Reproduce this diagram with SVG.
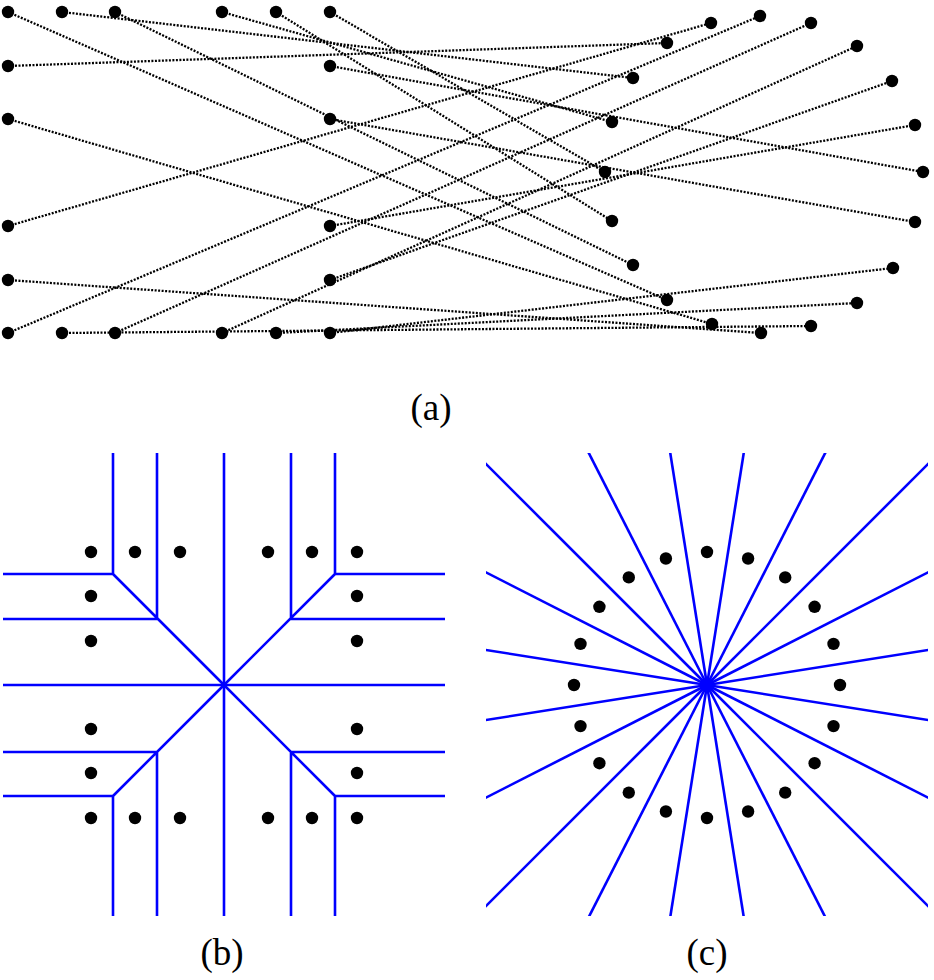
<svg xmlns="http://www.w3.org/2000/svg" width="934" height="980" viewBox="0 0 934 980">
<style>
.e{stroke:#000;stroke-width:2.3;stroke-dasharray:2 1.5;fill:none}
.b{stroke:#0000ff;stroke-width:2.6;fill:none}
.d{fill:#000}
.lbl{font-family:"Liberation Serif","Times New Roman",serif;font-size:37px;fill:#000;text-anchor:middle}
</style>
<defs>
<clipPath id="clipB"><rect x="3" y="453" width="442" height="463"/></clipPath>
<clipPath id="clipC"><rect x="486" y="453" width="442" height="463"/></clipPath>
</defs>
<rect width="934" height="980" fill="#fff"/>

<!-- (a) connectors -->
<g id="connectors-a">
<line class="e" x1="8" y1="12" x2="667" y2="300"/>
<line class="e" x1="62" y1="12" x2="633" y2="78"/>
<line class="e" x1="115" y1="12" x2="633" y2="265"/>
<line class="e" x1="222" y1="12" x2="612" y2="122"/>
<line class="e" x1="276" y1="12" x2="612" y2="221"/>
<line class="e" x1="330" y1="12" x2="605" y2="172"/>
<line class="e" x1="8" y1="66" x2="667" y2="43"/>
<line class="e" x1="330" y1="66" x2="923" y2="172"/>
<line class="e" x1="8" y1="119" x2="712" y2="324"/>
<line class="e" x1="330" y1="119" x2="915" y2="222"/>
<line class="e" x1="8" y1="226" x2="711" y2="23"/>
<line class="e" x1="330" y1="226" x2="915" y2="125"/>
<line class="e" x1="8" y1="280" x2="761" y2="333"/>
<line class="e" x1="330" y1="280" x2="892" y2="81"/>
<line class="e" x1="8" y1="333" x2="760" y2="16"/>
<line class="e" x1="62" y1="333" x2="811" y2="326"/>
<line class="e" x1="115" y1="333" x2="811" y2="23"/>
<line class="e" x1="222" y1="333" x2="857" y2="46"/>
<line class="e" x1="276" y1="333" x2="857" y2="303"/>
<line class="e" x1="330" y1="333" x2="893" y2="268"/>
</g>

<!-- (a) left nodes -->
<g id="a-left">
<g id="aL1"><circle class="d" cx="8" cy="12" r="6.2"/></g>
<g id="aL2"><circle class="d" cx="62" cy="12" r="6.2"/></g>
<g id="aL3"><circle class="d" cx="115" cy="12" r="6.2"/></g>
<g id="aL4"><circle class="d" cx="222" cy="12" r="6.2"/></g>
<g id="aL5"><circle class="d" cx="276" cy="12" r="6.2"/></g>
<g id="aL6"><circle class="d" cx="330" cy="12" r="6.2"/></g>
<g id="aL7"><circle class="d" cx="8" cy="66" r="6.2"/></g>
<g id="aL8"><circle class="d" cx="330" cy="66" r="6.2"/></g>
<g id="aL9"><circle class="d" cx="8" cy="119" r="6.2"/></g>
<g id="aL10"><circle class="d" cx="330" cy="119" r="6.2"/></g>
<g id="aL11"><circle class="d" cx="8" cy="226" r="6.2"/></g>
<g id="aL12"><circle class="d" cx="330" cy="226" r="6.2"/></g>
<g id="aL13"><circle class="d" cx="8" cy="280" r="6.2"/></g>
<g id="aL14"><circle class="d" cx="330" cy="280" r="6.2"/></g>
<g id="aL15"><circle class="d" cx="8" cy="333" r="6.2"/></g>
<g id="aL16"><circle class="d" cx="62" cy="333" r="6.2"/></g>
<g id="aL17"><circle class="d" cx="115" cy="333" r="6.2"/></g>
<g id="aL18"><circle class="d" cx="222" cy="333" r="6.2"/></g>
<g id="aL19"><circle class="d" cx="276" cy="333" r="6.2"/></g>
<g id="aL20"><circle class="d" cx="330" cy="333" r="6.2"/></g>
</g>
<!-- (a) right nodes -->
<g id="a-right">
<g id="aR1"><circle class="d" cx="760" cy="16" r="6.2"/></g>
<g id="aR2"><circle class="d" cx="811" cy="23" r="6.2"/></g>
<g id="aR3"><circle class="d" cx="857" cy="46" r="6.2"/></g>
<g id="aR4"><circle class="d" cx="892" cy="81" r="6.2"/></g>
<g id="aR5"><circle class="d" cx="915" cy="125" r="6.2"/></g>
<g id="aR6"><circle class="d" cx="923" cy="172" r="6.2"/></g>
<g id="aR7"><circle class="d" cx="915" cy="222" r="6.2"/></g>
<g id="aR8"><circle class="d" cx="893" cy="268" r="6.2"/></g>
<g id="aR9"><circle class="d" cx="857" cy="303" r="6.2"/></g>
<g id="aR10"><circle class="d" cx="811" cy="326" r="6.2"/></g>
<g id="aR11"><circle class="d" cx="761" cy="333" r="6.2"/></g>
<g id="aR12"><circle class="d" cx="712" cy="324" r="6.2"/></g>
<g id="aR13"><circle class="d" cx="667" cy="300" r="6.2"/></g>
<g id="aR14"><circle class="d" cx="633" cy="265" r="6.2"/></g>
<g id="aR15"><circle class="d" cx="612" cy="221" r="6.2"/></g>
<g id="aR16"><circle class="d" cx="605" cy="172" r="6.2"/></g>
<g id="aR17"><circle class="d" cx="612" cy="122" r="6.2"/></g>
<g id="aR18"><circle class="d" cx="633" cy="78" r="6.2"/></g>
<g id="aR19"><circle class="d" cx="667" cy="43" r="6.2"/></g>
<g id="aR20"><circle class="d" cx="711" cy="23" r="6.2"/></g>
</g>
<text class="lbl" x="431" y="420">(a)</text>

<!-- (b) -->
<g id="connectors-b" clip-path="url(#clipB)">
<path class="b" d="M224 453V916M3 685H445"/>
<path class="b" d="M113 453V574H3M113 574L224 685M157 453V619H3"/>
<path class="b" d="M335 453V574H445M335 574L224 685M291 453V619H445"/>
<path class="b" d="M113 916V796H3M113 796L224 685M157 916V752H3"/>
<path class="b" d="M335 916V796H445M335 796L224 685M291 916V752H445"/>
</g>
<g id="b-nodes">
<g id="b1"><circle class="d" cx="91" cy="552" r="6.2"/></g>
<g id="b2"><circle class="d" cx="135" cy="552" r="6.2"/></g>
<g id="b3"><circle class="d" cx="180" cy="552" r="6.2"/></g>
<g id="b4"><circle class="d" cx="268" cy="552" r="6.2"/></g>
<g id="b5"><circle class="d" cx="312" cy="552" r="6.2"/></g>
<g id="b6"><circle class="d" cx="357" cy="552" r="6.2"/></g>
<g id="b7"><circle class="d" cx="91" cy="596" r="6.2"/></g>
<g id="b8"><circle class="d" cx="357" cy="596" r="6.2"/></g>
<g id="b9"><circle class="d" cx="91" cy="641" r="6.2"/></g>
<g id="b10"><circle class="d" cx="357" cy="641" r="6.2"/></g>
<g id="b11"><circle class="d" cx="91" cy="729" r="6.2"/></g>
<g id="b12"><circle class="d" cx="357" cy="729" r="6.2"/></g>
<g id="b13"><circle class="d" cx="91" cy="773" r="6.2"/></g>
<g id="b14"><circle class="d" cx="357" cy="773" r="6.2"/></g>
<g id="b15"><circle class="d" cx="91" cy="818" r="6.2"/></g>
<g id="b16"><circle class="d" cx="135" cy="818" r="6.2"/></g>
<g id="b17"><circle class="d" cx="180" cy="818" r="6.2"/></g>
<g id="b18"><circle class="d" cx="268" cy="818" r="6.2"/></g>
<g id="b19"><circle class="d" cx="312" cy="818" r="6.2"/></g>
<g id="b20"><circle class="d" cx="357" cy="818" r="6.2"/></g>
</g>
<text class="lbl" x="222" y="965">(b)</text>

<!-- (c) -->
<g id="connectors-c" clip-path="url(#clipC)">
<g transform="translate(707 685)">
<line class="b" x1="0" y1="0" x2="0" y2="-400" transform="rotate(9)"/>
<line class="b" x1="0" y1="0" x2="0" y2="-400" transform="rotate(27)"/>
<line class="b" x1="0" y1="0" x2="0" y2="-400" transform="rotate(45)"/>
<line class="b" x1="0" y1="0" x2="0" y2="-400" transform="rotate(63)"/>
<line class="b" x1="0" y1="0" x2="0" y2="-400" transform="rotate(81)"/>
<line class="b" x1="0" y1="0" x2="0" y2="-400" transform="rotate(99)"/>
<line class="b" x1="0" y1="0" x2="0" y2="-400" transform="rotate(117)"/>
<line class="b" x1="0" y1="0" x2="0" y2="-400" transform="rotate(135)"/>
<line class="b" x1="0" y1="0" x2="0" y2="-400" transform="rotate(153)"/>
<line class="b" x1="0" y1="0" x2="0" y2="-400" transform="rotate(171)"/>
<line class="b" x1="0" y1="0" x2="0" y2="-400" transform="rotate(189)"/>
<line class="b" x1="0" y1="0" x2="0" y2="-400" transform="rotate(207)"/>
<line class="b" x1="0" y1="0" x2="0" y2="-400" transform="rotate(225)"/>
<line class="b" x1="0" y1="0" x2="0" y2="-400" transform="rotate(243)"/>
<line class="b" x1="0" y1="0" x2="0" y2="-400" transform="rotate(261)"/>
<line class="b" x1="0" y1="0" x2="0" y2="-400" transform="rotate(279)"/>
<line class="b" x1="0" y1="0" x2="0" y2="-400" transform="rotate(297)"/>
<line class="b" x1="0" y1="0" x2="0" y2="-400" transform="rotate(315)"/>
<line class="b" x1="0" y1="0" x2="0" y2="-400" transform="rotate(333)"/>
<line class="b" x1="0" y1="0" x2="0" y2="-400" transform="rotate(351)"/>
</g>
</g>
<g id="c-nodes">
<g id="c1"><circle class="d" cx="707" cy="552" r="6.2"/></g>
<g id="c2"><circle class="d" cx="748.1" cy="558.5" r="6.2"/></g>
<g id="c3"><circle class="d" cx="785.2" cy="577.4" r="6.2"/></g>
<g id="c4"><circle class="d" cx="814.6" cy="606.8" r="6.2"/></g>
<g id="c5"><circle class="d" cx="833.5" cy="643.9" r="6.2"/></g>
<g id="c6"><circle class="d" cx="840" cy="685" r="6.2"/></g>
<g id="c7"><circle class="d" cx="833.5" cy="726.1" r="6.2"/></g>
<g id="c8"><circle class="d" cx="814.6" cy="763.2" r="6.2"/></g>
<g id="c9"><circle class="d" cx="785.2" cy="792.6" r="6.2"/></g>
<g id="c10"><circle class="d" cx="748.1" cy="811.5" r="6.2"/></g>
<g id="c11"><circle class="d" cx="707" cy="818" r="6.2"/></g>
<g id="c12"><circle class="d" cx="665.9" cy="811.5" r="6.2"/></g>
<g id="c13"><circle class="d" cx="628.8" cy="792.6" r="6.2"/></g>
<g id="c14"><circle class="d" cx="599.4" cy="763.2" r="6.2"/></g>
<g id="c15"><circle class="d" cx="580.5" cy="726.1" r="6.2"/></g>
<g id="c16"><circle class="d" cx="574" cy="685" r="6.2"/></g>
<g id="c17"><circle class="d" cx="580.5" cy="643.9" r="6.2"/></g>
<g id="c18"><circle class="d" cx="599.4" cy="606.8" r="6.2"/></g>
<g id="c19"><circle class="d" cx="628.8" cy="577.4" r="6.2"/></g>
<g id="c20"><circle class="d" cx="665.9" cy="558.5" r="6.2"/></g>
</g>
<text class="lbl" x="707" y="965">(c)</text>
</svg>
